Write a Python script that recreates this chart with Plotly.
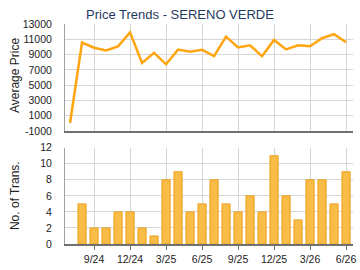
import plotly.graph_objects as go

months = ["7/24", "8/24", "9/24", "10/24", "11/24", "12/24", "1/25", "2/25", "3/25",
          "4/25", "5/25", "6/25", "7/25", "8/25", "9/25", "10/25", "11/25", "12/25",
          "1/26", "2/26", "3/26", "4/26", "5/26", "6/26"]
avg_price = [50, 10560, 9900, 9540, 10080, 11900, 7900, 9230, 7730, 9650, 9360, 9630,
             8790, 11350, 9940, 10210, 8790, 10920, 9680, 10210, 10080, 11140, 11670, 10610]
bar_months = months[1:]
transactions = [5, 2, 2, 4, 4, 2, 1, 8, 9, 4, 5, 8, 5, 4, 6, 4, 11, 6, 3, 8, 8, 5, 9]
tick_labels = ["9/24", "12/24", "3/25", "6/25", "9/25", "12/25", "3/26", "6/26"]
price_ticks = [-1000, 1000, 3000, 5000, 7000, 9000, 11000, 13000]
trans_ticks = [0, 2, 4, 6, 8, 10, 12]

fig = go.Figure()
fig.add_trace(go.Scatter(x=months, y=avg_price, mode="lines",
                         line=dict(color="#FFA510", width=2.5),
                         xaxis="x", yaxis="y", hoverinfo="skip"))
fig.add_trace(go.Bar(x=bar_months, y=transactions, width=0.68,
                     marker=dict(color="#F8BC48", line=dict(color="#E9A01C", width=1)),
                     xaxis="x2", yaxis="y2"))

font = "Liberation Sans, Arial, sans-serif"
xcommon = dict(type="category", categoryorder="array", categoryarray=months,
               range=[-0.42, 23.58], tickvals=tick_labels, ticktext=tick_labels,
               showgrid=True, gridcolor="#D6D6D6", gridwidth=1,
               showline=True, linecolor="#707070", linewidth=2,
               zeroline=False, fixedrange=True, automargin=False)

fig.update_layout(
    width=360, height=270,
    margin=dict(l=65, r=7, t=24, b=26),
    paper_bgcolor="white", plot_bgcolor="white",
    showlegend=False,
    font=dict(family=font, size=10, color="#222"),
    title=dict(text="Price Trends - SERENO VERDE", x=0.5, xanchor="center",
               y=0.948, yanchor="middle", yref="container",
               font=dict(family=font, size=13, color="#1F3A5F")),
    xaxis=dict(**xcommon, anchor="y", showticklabels=False, ticks=""),
    yaxis=dict(domain=[0.5136, 1.0], range=[-1000, 13000], tickvals=price_ticks,
               ticktext=[str(v) for v in price_ticks], automargin=False,
               showgrid=True, gridcolor="#D6D6D6", zeroline=False,
               showline=True, linecolor="#A0A0A0", linewidth=1,
               ticks="", ticklabelstandoff=10, tickfont=dict(size=10.5)),
    xaxis2=dict(**xcommon, anchor="y2", ticks="outside", ticklen=4, tickcolor="#707070",
                tickfont=dict(size=10.5)),
    yaxis2=dict(domain=[0.0, 0.4377], range=[0, 12], tickvals=trans_ticks, automargin=False,
                showgrid=True, gridcolor="#D6D6D6", zeroline=False,
                showline=True, linecolor="#A0A0A0", linewidth=1,
                ticks="", ticklabelstandoff=10, tickfont=dict(size=10.5)),
    bargap=0.3,
    annotations=[
        dict(text="Average Price", textangle=-90, xref="paper", yref="paper",
             x=-0.1736, y=0.7636, xanchor="center", yanchor="middle", showarrow=False,
             font=dict(size=12, color="#222")),
        dict(text="No. of Trans.", textangle=-90, xref="paper", yref="paper",
             x=-0.1736, y=0.218, xanchor="center", yanchor="middle", showarrow=False,
             font=dict(size=12, color="#222")),
    ],
)

fig.write_html("out.html")
